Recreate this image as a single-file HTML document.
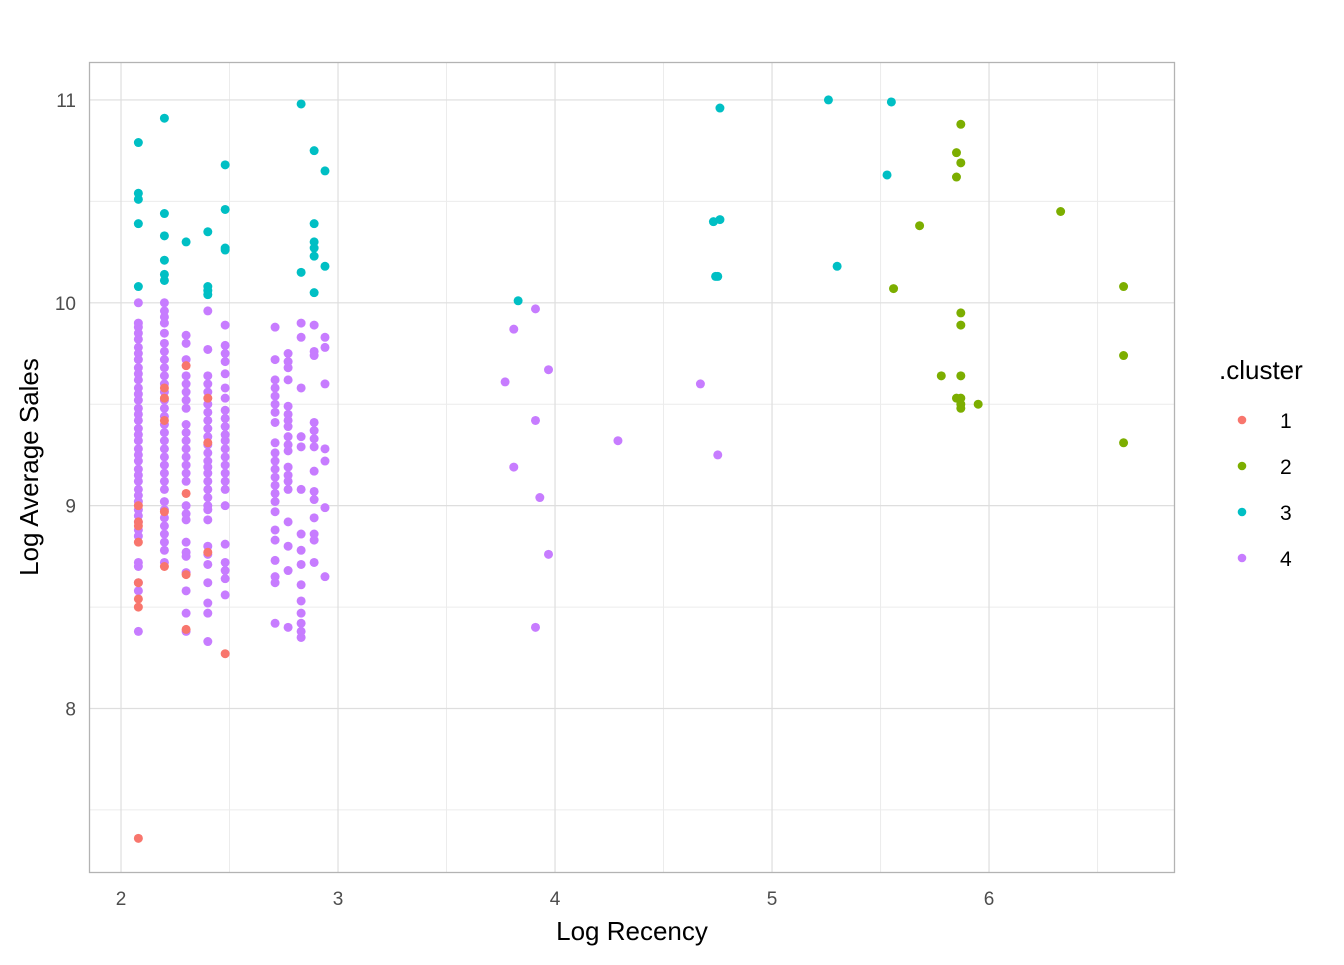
<!DOCTYPE html>
<html><head><meta charset="utf-8"><style>
body{margin:0;background:#fff;}
svg text{font-family:"Liberation Sans",Arial,sans-serif;}
</style></head><body>
<svg id="chart" width="1344" height="960" xmlns="http://www.w3.org/2000/svg">
<rect width="1344" height="960" fill="#fff"/>
<g id="grid"></g>
<g id="points"></g>
<rect x="89.5" y="62.5" width="1085" height="810" fill="none" stroke="#b3b3b3" stroke-width="1.3"/>
<g id="axes"></g>
<text x="632" y="940" font-size="26" text-anchor="middle" fill="#000">Log Recency</text>
<text transform="translate(38,467) rotate(-90)" font-size="26" text-anchor="middle" fill="#000">Log Average Sales</text>
<g id="legend">
<text x="1219" y="379" font-size="26" fill="#000">.cluster</text>
</g>
</svg>
<script>
const xTicks=[2,3,4,5,6];
const yTicks=[8,9,10,11];
const clusterLabels=["1","2","3","4"];
const clusterColors=["#F8766D","#7CAE00","#00BFC4","#C77CFF"];
// cluster 1 (x, y)
const c1x=[2.08,2.08,2.08,2.08,2.08,2.08,2.08,2.08,2.2,2.2,2.2,2.2,2.2,2.3,2.3,2.3,2.3,2.4,2.4,2.4,2.48];
const c1y=[9.0,8.92,8.9,8.82,8.62,8.54,8.5,7.36,9.58,9.53,9.42,8.97,8.7,9.69,9.06,8.66,8.39,9.53,9.31,8.77,8.27];
// cluster 2
const c2x=[5.87,5.85,5.87,5.85,5.68,6.33,5.56,6.62,5.87,5.87,6.62,5.78,5.87,5.85,5.87,5.87,5.95,5.87,6.62];
const c2y=[10.88,10.74,10.69,10.62,10.38,10.45,10.07,10.08,9.95,9.89,9.74,9.64,9.64,9.53,9.53,9.5,9.5,9.48,9.31];
// cluster 3
const c3x=[2.08,2.08,2.08,2.08,2.08,2.2,2.2,2.2,2.2,2.2,2.2,2.3,2.4,2.4,2.4,2.4,2.48,2.48,2.48,2.48,2.83,2.83,2.89,2.89,2.89,2.89,2.89,2.89,2.94,2.94,3.83,4.73,4.76,4.76,4.74,4.75,5.26,5.55,5.53,5.3];
const c3y=[10.79,10.54,10.51,10.39,10.08,10.91,10.44,10.33,10.21,10.14,10.11,10.3,10.35,10.08,10.06,10.04,10.68,10.46,10.27,10.26,10.98,10.15,10.75,10.39,10.3,10.27,10.23,10.05,10.65,10.18,10.01,10.4,10.41,10.96,10.13,10.13,11.0,10.99,10.63,10.18];
// cluster 4: dense columns by x value
const c4cols=[2.08,2.2,2.3,2.4,2.48,2.71,2.77,2.83,2.89,2.94];
const c4vals=[
[10.0,9.9,9.88,9.85,9.82,9.78,9.75,9.72,9.68,9.65,9.62,9.58,9.55,9.52,9.48,9.45,9.42,9.38,9.35,9.32,9.28,9.25,9.22,9.18,9.15,9.12,9.08,9.05,9.02,8.98,8.95,8.92,8.88,8.85,8.72,8.7,8.62,8.58,8.38],
[10.0,9.96,9.93,9.9,9.85,9.8,9.76,9.72,9.68,9.64,9.6,9.56,9.52,9.48,9.44,9.4,9.36,9.32,9.28,9.24,9.2,9.16,9.12,9.08,9.02,8.98,8.94,8.9,8.86,8.82,8.78,8.72],
[9.84,9.8,9.72,9.64,9.6,9.56,9.52,9.48,9.4,9.36,9.32,9.28,9.24,9.2,9.16,9.12,9.0,8.96,8.93,8.82,8.77,8.75,8.67,8.58,8.47,8.38],
[9.96,9.77,9.64,9.6,9.56,9.5,9.46,9.42,9.38,9.34,9.3,9.26,9.22,9.19,9.16,9.12,9.08,9.04,9.0,8.98,8.93,8.8,8.76,8.71,8.62,8.52,8.47,8.33],
[9.89,9.79,9.75,9.71,9.65,9.58,9.53,9.47,9.43,9.39,9.35,9.32,9.28,9.24,9.2,9.16,9.12,9.08,9.0,8.81,8.72,8.68,8.64,8.56],
[9.88,9.72,9.62,9.58,9.54,9.5,9.46,9.41,9.31,9.26,9.22,9.18,9.14,9.1,9.06,9.02,8.97,8.88,8.83,8.73,8.65,8.62,8.42],
[9.75,9.71,9.68,9.62,9.49,9.45,9.42,9.39,9.34,9.3,9.27,9.19,9.15,9.12,9.08,8.92,8.8,8.68,8.4],
[9.9,9.83,9.58,9.34,9.29,9.08,8.86,8.78,8.71,8.61,8.53,8.47,8.42,8.38,8.35],
[9.89,9.76,9.74,9.41,9.37,9.33,9.29,9.17,9.07,9.03,8.94,8.86,8.83,8.72],
[9.83,9.78,9.6,9.28,9.22,8.99,8.65]];
const c4sx=[3.77,3.81,3.91,3.97,3.91,3.81,3.93,3.97,3.91,4.29,4.67,4.75];
const c4sy=[9.61,9.87,9.97,9.67,9.42,9.19,9.04,8.76,8.4,9.32,9.6,9.25];

const X0=89,X1=1175,Y0=62,Y1=872;
const xMin=1.8525,xMax=6.857,yMin=7.194,yMax=11.187;
const sx=v=>X0+(v-xMin)/(xMax-xMin)*(X1-X0);
const sy=v=>Y1-(v-yMin)/(yMax-yMin)*(Y1-Y0);
const NS="http://www.w3.org/2000/svg";
function mk(t,a,p){const e=document.createElementNS(NS,t);for(const k in a)e.setAttribute(k,a[k]);p.appendChild(e);return e;}
const grid=document.getElementById('grid'),axes=document.getElementById('axes'),pts=document.getElementById('points');
// minor grid
for(let i=0;i<xTicks.length;i++){const v=xTicks[i]+0.5;if(v>xMax)continue;const g=mk('line',{x1:sx(v),x2:sx(v),y1:Y0,y2:Y1,stroke:'#ececec','stroke-width':1},grid);
}
for(let i=0;i<yTicks.length;i++){const v=yTicks[i]-0.5;const g=mk('line',{x1:X0,x2:X1,y1:sy(v),y2:sy(v),stroke:'#ececec','stroke-width':1},grid);
}
xTicks.forEach(v=>{const g=mk('line',{x1:sx(v),x2:sx(v),y1:Y0,y2:Y1,stroke:'#dedede','stroke-width':1.2},grid);

const t=mk('text',{x:sx(v),y:Y1+33,'font-size':19,'text-anchor':'middle',fill:'#4d4d4d'},axes);t.textContent=v;
});
yTicks.forEach(v=>{const g=mk('line',{x1:X0,x2:X1,y1:sy(v),y2:sy(v),stroke:'#dedede','stroke-width':1.2},grid);

const t=mk('text',{x:X0-13,y:sy(v)+7,'font-size':19,'text-anchor':'end',fill:'#4d4d4d'},axes);t.textContent=v;
});
function dot(x,y,c){const e=mk('circle',{cx:sx(x),cy:sy(y),r:4.5,fill:clusterColors[c]},pts);

}
c4cols.forEach((x,i)=>c4vals[i].forEach(y=>dot(x,y,3)));
c4sx.forEach((x,i)=>dot(x,c4sy[i],3));
c1x.forEach((x,i)=>dot(x,c1y[i],0));
c2x.forEach((x,i)=>dot(x,c2y[i],1));
c3x.forEach((x,i)=>dot(x,c3y[i],2));
const lg=document.getElementById('legend');
clusterLabels.forEach((l,i)=>{const y=420+i*46;
const c=mk('circle',{cx:1242,cy:y,r:4.3,fill:clusterColors[i]},lg);


const t=mk('text',{x:1280,y:y+8,'font-size':21,fill:'#000'},lg);t.textContent=l;

});
</script>
</body></html>
